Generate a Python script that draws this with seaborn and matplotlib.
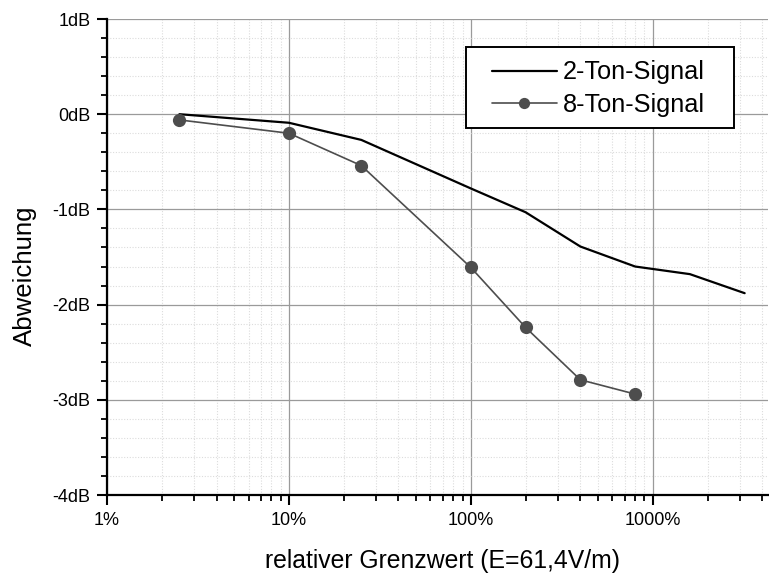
import numpy as np
import pandas as pd
import matplotlib
matplotlib.use("Agg")
import matplotlib.pyplot as plt
from matplotlib.patches import Rectangle
from matplotlib.ticker import FixedLocator, FuncFormatter, LogLocator, MultipleLocator
import seaborn as sns

# Relative limit value in percent (E = 61,4 V/m) and deviation in dB
x_two_tone = [2.5, 10, 25, 100, 200, 400, 800, 1600, 3200]
y_two_tone = [0.0, -0.09, -0.27, -0.78, -1.03, -1.39, -1.60, -1.68, -1.88]

x_eight_tone = [2.5, 10, 25, 100, 200, 400, 800]
y_eight_tone = [-0.06, -0.20, -0.54, -1.61, -2.24, -2.79, -2.94]

series_names = ["2-Ton-Signal", "8-Ton-Signal"]
x_ticks = [1, 10, 100, 1000]
y_ticks = [-4, -3, -2, -1, 0, 1]

sns.set_style("ticks")
plt.rcParams["font.family"] = ["Liberation Sans", "DejaVu Sans"]
plt.rcParams["text.color"] = "black"
plt.rcParams["axes.labelcolor"] = "black"

W, H = 769, 574
fig = plt.figure(figsize=(W / 100, H / 100), dpi=100)
ax = fig.add_axes([107 / W, 1 - 495 / H, (768 - 107) / W, (495 - 19) / H])

df2 = pd.DataFrame({"x": x_two_tone, "y": y_two_tone})
df8 = pd.DataFrame({"x": x_eight_tone, "y": y_eight_tone})

sns.lineplot(data=df2, x="x", y="y", ax=ax, color="black", linewidth=1.6,
             label=series_names[0], zorder=3)
sns.lineplot(data=df8, x="x", y="y", ax=ax, color="#4d4d4d", linewidth=1.2,
             marker="o", markersize=9.5, markeredgewidth=0, label=series_names[1],
             zorder=4)

ax.set_xscale("log")
ax.set_xlim(1, 4300)
ax.set_ylim(-4, 1)

ax.xaxis.set_major_locator(FixedLocator(x_ticks))
ax.xaxis.set_minor_locator(LogLocator(base=10, subs=np.arange(2, 10), numticks=20))
ax.xaxis.set_major_formatter(FuncFormatter(lambda v, p: f"{v:g}%"))
ax.xaxis.set_minor_formatter(FuncFormatter(lambda v, p: ""))
ax.yaxis.set_major_locator(FixedLocator(y_ticks))
ax.yaxis.set_minor_locator(MultipleLocator(0.2))
ax.yaxis.set_major_formatter(FuncFormatter(lambda v, p: f"{int(round(v))}dB"))

ax.grid(which="major", color="#9a9a9a", linewidth=0.9, linestyle="-", zorder=1)
ax.grid(which="minor", color="#dcdcdc", linewidth=0.8, linestyle=(0, (1, 1.5)), zorder=1)
ax.set_axisbelow(True)

for side in ["top", "right"]:
    ax.spines[side].set_visible(False)
for side in ["left", "bottom"]:
    ax.spines[side].set_color("black")
    ax.spines[side].set_linewidth(1.6)

ax.tick_params(which="major", direction="out", length=7, width=1.5,
               labelsize=13, color="black", labelcolor="black", pad=5)
ax.tick_params(which="minor", direction="out", length=4.5, width=1.3, color="black")

ax.set_xlabel("relativer Grenzwert (E=61,4V/m)", fontsize=17.8, color="black")
ax.set_ylabel("Abweichung", fontsize=18.6, color="black")
ax.xaxis.set_label_coords((442.5 - 107) / 661, (495 - 549) / 476)
ax.yaxis.set_label_coords((37 - 107) / 661, (495 - 276) / 476)

# legend box drawn separately, entries placed inside it
box = Rectangle((466 / W, 1 - 128 / H), (734 - 466) / W, (128 - 47) / H,
                transform=fig.transFigure, facecolor="white", edgecolor="black",
                linewidth=1.4, zorder=5, clip_on=False)
ax.add_patch(box)

handles, labels = ax.get_legend_handles_labels()
leg = ax.legend(handles, labels, loc="center left",
                bbox_to_anchor=(491.7 / W, 1 - 88.5 / H),
                bbox_transform=fig.transFigure, borderaxespad=0, borderpad=0,
                fontsize=18.2, frameon=False, handlelength=2.57,
                handletextpad=0.24, labelspacing=0.32, markerscale=0.85,
                labelcolor="black")
leg.set_zorder(6)

fig.savefig("out.png", dpi=100)
